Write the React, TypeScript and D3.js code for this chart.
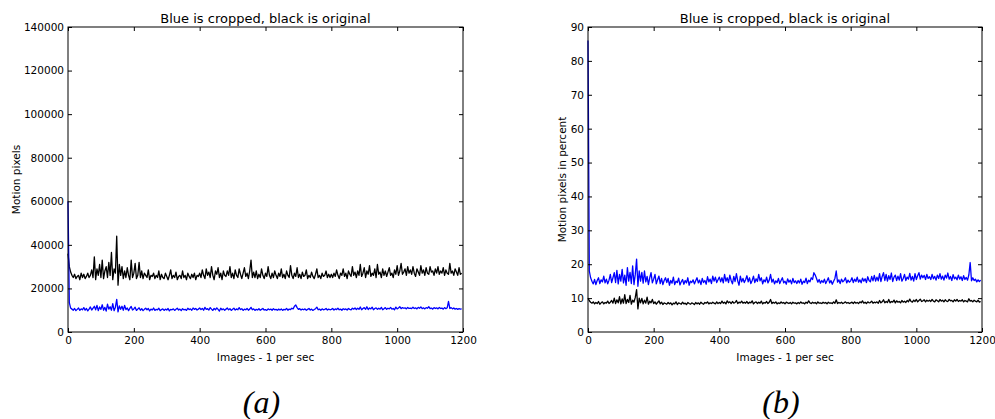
import * as d3 from "d3";
import { useLayoutEffect, useRef } from "react";

// one reading every 4 images (0, 4, 8 ... 1196)
const images = d3.range(0, 1200, 4);

// (a) motion pixels, in thousands
const blackPixelsK = [
  36, 30, 27.5, 26, 25, 26.5, 24.5, 25.5, 26, 24, 27, 25, 26.5, 24.5, 25.5, 27, 25, 26, 28.5, 25,
  34.5, 24, 29, 26, 31, 25, 33, 24.5, 28, 30, 25, 32, 26, 36.5, 24, 29, 27, 44, 21.5, 31,
  26, 30, 24.5, 28, 25, 29.5, 26, 24, 33, 25, 27, 31.5, 24.5, 26, 32, 25, 28, 24.5, 27, 26,
  25, 28.5, 24, 26, 25.5, 27, 24.5, 26, 25, 28, 24, 26.5, 25, 24.5, 27, 25.5, 24, 26, 28.5, 24.5,
  26, 25, 27.5, 24, 25.5, 26, 24.5, 28, 25, 26, 24, 27, 25.5, 24.5, 26.5, 25, 27, 24, 26, 25.5,
  27, 25, 28.5, 26, 24.5, 29, 26, 27.5, 25, 30, 26, 24, 28, 26.5, 29.5, 25, 27, 24, 28, 26,
  25.5, 28, 26, 30, 25, 27, 24.5, 28.5, 26, 25, 29, 26.5, 24.5, 27, 29.5, 25.5, 27, 24.5, 28, 33,
  25, 27.5, 25, 28, 24.5, 26.5, 25, 29, 26, 24.5, 27, 25.5, 30, 26, 24.5, 27, 25, 28, 26, 24.5,
  27, 25.5, 29, 25, 26.5, 24.5, 28, 26, 25, 30.5, 26, 24.5, 27, 25.5, 29.5, 25, 26.5, 24.5, 27.5, 25.5,
  26, 28.5, 24.5, 26, 25, 27.5, 25.5, 24.5, 26.5, 29, 25, 26, 24.5, 27, 25.5, 26, 28, 25, 26.5, 25,
  26.5, 25, 27, 25.5, 28.5, 26, 24.5, 27, 26, 29, 25.5, 27, 24.5, 28, 26.5, 25.5, 30, 26, 27.5, 25,
  28, 26, 31, 25.5, 27, 29.5, 25, 28, 26.5, 30.5, 25.5, 27, 26, 29, 25, 31, 26.5, 27.5, 25, 29,
  26, 28, 25.5, 27.5, 29.5, 26, 27, 25, 28.5, 26.5, 30.5, 26, 28, 31.5, 26.5, 27.5, 29, 26, 30, 27,
  28.5, 26.5, 30, 27, 25.5, 29, 27.5, 26, 30.5, 27, 28.5, 26, 29.5, 27, 26.5, 30, 27.5, 28, 26, 29,
  27, 30, 26.5, 28, 27, 29.5, 26, 28.5, 27, 26.5, 31.5, 27, 28, 26, 29, 27.5, 26, 29.5, 26.5, 27,
];

const bluePixelsK = [
  60, 13.5, 11, 10.5, 10, 10.8, 9.8, 10.4, 11, 9.9, 10.6, 10.2, 11.2, 10, 10.8, 9.7, 10.5, 11.5, 10.1, 10.9,
  11.8, 10.2, 12.2, 9.8, 11.5, 10.4, 12.5, 10, 11.3, 9.6, 12.8, 10.5, 11.6, 10, 13, 9.8, 11.4, 15, 9.2, 12,
  10.4, 11.8, 10, 12.2, 10.3, 11, 9.8, 10.9, 11.7, 10.1, 10.6, 11.4, 9.9, 10.5, 11.1, 10, 10.7, 9.8, 10.4, 10.9,
  10.2, 10.8, 9.7, 10.5, 10.1, 11, 9.9, 10.4, 10.2, 10.9, 9.8, 10.3, 10.6, 9.9, 10.5, 10.1, 10.8, 9.7, 10.4, 10.2,
  10.6, 9.9, 10.4, 10.9, 10.1, 10.5, 9.8, 10.7, 10.2, 10.4, 9.9, 10.9, 10.3, 10.6, 10, 11, 10.4, 10.8, 10.1, 10.5,
  11, 10.3, 10.8, 10, 11.3, 10.4, 10.7, 10.1, 11.2, 10.5, 9.9, 10.8, 10.2, 11.1, 10.4, 9.6, 10.9, 10.2, 10.6, 10,
  10.5, 11, 10.2, 10.7, 9.9, 10.4, 10.9, 10.1, 10.6, 10.2, 11.2, 10.3, 10.7, 9.9, 10.5, 10.2, 10.8, 10, 10.5, 11.3,
  10.2, 10.6, 9.9, 10.4, 10.1, 10.7, 10, 10.4, 10.8, 10.1, 10.3, 9.9, 10.6, 10.2, 10.5, 10, 10.7, 10.2, 10.4, 10,
  10.5, 10.1, 10.6, 9.9, 10.4, 10.2, 10.8, 10, 10.5, 10.3, 10.9, 10.6, 11.8, 12.4, 11.2, 10.4, 10.7, 10.1, 10.5, 10.2,
  10.6, 10, 10.4, 10.8, 10.1, 10.5, 9.9, 10.3, 10.7, 11.4, 10.2, 10.5, 10, 10.6, 10.2, 10.4, 10.8, 10.1, 10.5, 10.2,
  10.4, 10.8, 10.1, 10.6, 10.3, 10.9, 10.2, 10.5, 10, 10.7, 10.3, 10.6, 10.1, 10.8, 10.4, 10.2, 10.9, 10.5, 11, 10.3,
  10.9, 10.4, 11.5, 10.2, 10.8, 11.2, 10.4, 11.6, 10.3, 11, 10.6, 11.4, 10.2, 10.8, 11.1, 10.4, 10.9, 10.5, 11.3, 10.2,
  10.7, 11.2, 10.4, 10.9, 10.6, 11.3, 10.5, 10.8, 10.2, 11.4, 10.6, 11, 11.6, 10.7, 11.2, 10.9, 11.1, 10.6, 11.3, 10.8,
  11, 10.7, 11.4, 10.8, 11.1, 10.6, 11.3, 10.9, 11.5, 10.7, 11.1, 10.6, 11.2, 10.9, 11.6, 10.7, 11, 10.5, 11.2, 10.8,
  11.1, 10.6, 11.3, 10.8, 11, 10.5, 11.2, 10.7, 11.1, 14, 10.8, 11.2, 10.6, 11, 10.5, 10.8, 10.4, 10.7, 10.5, 10.6,
];

// (b) motion pixels as percent of the frame
const blackPercent = [
  10, 9.2, 8.8, 8.5, 8.9, 8.3, 8.7, 8.4, 9, 8.2, 8.6, 8.9, 8.3, 8.7, 8.5, 9.1, 8.4, 8.8, 9.3, 8.5,
  10, 8.4, 9.5, 8.6, 10.4, 8.3, 9.8, 8.5, 11, 8.4, 9.6, 8.7, 10.8, 8.2, 9.4, 8.8, 10.2, 12.5, 6.8, 10,
  8.6, 9.9, 8.3, 9.4, 8.5, 10.3, 8.2, 9.1, 8.6, 9.6, 8.4, 8.9, 8.2, 8.7, 9.2, 8.3, 8.8, 8.1, 8.6, 8.4,
  8.2, 8.7, 8.3, 8.6, 8, 8.5, 8.3, 8.9, 8.1, 8.6, 8.4, 8.2, 8.8, 8.3, 8.5, 8.1, 8.7, 8.4, 8.2, 8.6,
  8.4, 8.1, 8.7, 8.3, 8.6, 8.2, 8.8, 8.4, 8.2, 8.7, 8.5, 8.9, 8.3, 8.6, 8.4, 8.8, 8.5, 8.3, 8.9, 8.4,
  8.7, 8.4, 9.1, 8.5, 8.8, 8.3, 9.2, 8.6, 8.9, 8.4, 9, 8.5, 8.7, 9.3, 8.4, 8.8, 8.6, 9.1, 8.5, 8.8,
  8.5, 9, 8.4, 8.8, 8.6, 9.2, 8.3, 8.7, 8.9, 8.4, 8.8, 8.5, 9.1, 8.3, 8.7, 8.5, 9, 8.4, 8.8, 9.6,
  8.4, 8.8, 8.5, 8.9, 8.3, 8.6, 8.4, 8.9, 8.5, 8.7, 8.3, 8.8, 8.6, 8.4, 8.7, 8.3, 8.8, 8.5, 8.6, 8.3,
  8.7, 8.4, 8.9, 8.5, 8.6, 8.3, 8.8, 8.5, 9.2, 8.6, 8.4, 8.8, 8.5, 8.7, 8.3, 8.9, 8.5, 8.6, 8.4, 8.8,
  8.5, 8.7, 8.3, 8.8, 8.5, 8.6, 8.4, 8.9, 8.5, 9.5, 8.4, 8.7, 8.5, 8.8, 8.4, 8.6, 8.9, 8.5, 8.7, 8.4,
  8.6, 8.8, 8.4, 8.9, 8.5, 8.7, 8.4, 8.9, 8.6, 9.2, 8.5, 8.8, 8.4, 8.9, 8.6, 8.7, 9.1, 8.5, 8.8, 8.6,
  8.9, 8.5, 9.3, 8.6, 8.9, 9.5, 8.6, 9, 8.7, 9.6, 8.6, 9, 8.8, 9.4, 8.6, 9.2, 8.8, 9, 8.6, 9.3,
  8.8, 9.1, 8.7, 9.3, 8.9, 9.7, 9, 8.8, 9.4, 9, 9.6, 8.9, 9.3, 9.7, 9, 9.2, 9.5, 8.9, 9.4, 9.1,
  9.4, 9, 9.6, 9.1, 8.9, 9.5, 9.2, 8.9, 9.6, 9.1, 9.4, 8.9, 9.5, 9.1, 9, 9.6, 9.2, 9.3, 8.9, 9.5,
  9.1, 9.6, 9, 9.3, 9.1, 9.5, 8.9, 9.3, 9.1, 8.9, 9.8, 9.1, 9.3, 8.9, 9.4, 9.1, 8.9, 9.4, 8.8, 9,
];

const bluePercent = [
  86, 18, 16, 15, 14.2, 15.5, 14, 15.2, 16, 14.3, 15.4, 14.8, 16.5, 14.5, 15.6, 14.2, 15.3, 17, 14.6, 16,
  17.5, 14.6, 18.2, 14.2, 17, 15, 18.5, 14.5, 16.8, 13.8, 19, 15, 17.6, 14.3, 19.5, 14, 17, 21.5, 13.5, 18,
  15, 17.6, 14.4, 18, 14.8, 16.4, 14, 16, 17.5, 14.5, 15.6, 17, 14.2, 15.4, 16.5, 14.3, 15.8, 14, 15.2, 16,
  14.6, 15.8, 13.8, 15.2, 14.4, 16.2, 14, 15, 14.6, 15.9, 13.9, 14.8, 15.5, 14.1, 15.2, 14.5, 16, 13.8, 15, 14.6,
  15.4, 14.2, 15.1, 16, 14.5, 15.3, 14, 15.8, 14.6, 15.2, 14.1, 16.3, 14.8, 15.6, 14.3, 16.5, 15, 16.2, 14.6, 15.4,
  16.2, 14.8, 16, 14.5, 17, 15, 16, 14.6, 16.8, 15.2, 14.2, 16.4, 14.9, 17.2, 15.1, 13.8, 16.5, 14.8, 15.8, 14.6,
  15.4, 16.6, 14.8, 16, 14.3, 15.2, 16.5, 14.6, 15.7, 14.9, 17, 15.1, 16, 14.2, 15.4, 14.8, 16.2, 14.5, 15.3, 17,
  14.7, 15.6, 14.2, 15.1, 14.6, 15.8, 14.3, 15.2, 16, 14.5, 15, 14.1, 15.7, 14.7, 15.3, 14.2, 15.8, 14.6, 15.1, 14.3,
  15.2, 14.5, 15.6, 14.1, 15, 14.6, 15.9, 14.3, 15.3, 14.8, 16, 15.5, 17.5, 16.8, 15.8, 14.7, 15.5, 14.4, 15.2, 14.6,
  15.6, 14.3, 15.1, 16, 14.5, 15.2, 14.1, 15, 15.8, 18, 14.7, 15.4, 14.3, 15.6, 14.8, 15.2, 16, 14.5, 15.3, 14.7,
  15.1, 16, 14.6, 15.6, 14.9, 16.2, 14.7, 15.4, 14.5, 15.9, 15, 15.7, 14.6, 16.3, 15.2, 14.8, 16.4, 15.1, 16.7, 15,
  16.2, 15.1, 17.2, 14.9, 16.4, 17.5, 15.2, 17, 15, 16.6, 15.5, 17.4, 14.9, 16.2, 16.8, 15.2, 16.5, 15.3, 17.2, 15,
  15.8, 17, 15.2, 16.2, 15.6, 17.3, 15.3, 16.4, 15, 17.2, 15.5, 16.6, 17.5, 15.6, 16.8, 16, 16.7, 15.5, 17, 15.8,
  16.3, 15.5, 17, 15.7, 16.4, 15.3, 16.8, 15.8, 17.2, 15.6, 16.5, 15.3, 16.8, 15.9, 17.4, 15.6, 16.4, 15.2, 16.9, 15.7,
  16.2, 15.4, 16.8, 15.6, 16.3, 15.2, 16.6, 15.5, 16.1, 15.3, 16.9, 20.5, 15.1, 16, 15.2, 15.6, 14.8, 15.4, 14.9, 15.3,
];

const xTicks = [0, 200, 400, 600, 800, 1000, 1200];
const pixelTicks = [0, 20000, 40000, 60000, 80000, 100000, 120000, 140000];
const percentTicks = [0, 10, 20, 30, 40, 50, 60, 70, 80, 90];

const title = "Blue is cropped, black is original";
const xLabel = "Images - 1 per sec";

const font = "DejaVu Sans, sans-serif";

const drawPanel = (svg, opts) => {
  const top = 27, bottom = 332;
  const { left, right, yMax, yTicks, yLabel, tag, black, blue, scaleK } = opts;

  const x = d3.scaleLinear().domain([0, 1200]).range([left, right]);
  const y = d3.scaleLinear().domain([0, yMax]).range([bottom, top]);

  const g = svg.append("g");

  // data lines
  const line = d3
    .line<number>()
    .x((d, i) => x(images[i]))
    .y((d) => y(d * scaleK));

  g.append("path")
    .datum(black)
    .attr("d", line)
    .attr("fill", "none")
    .attr("stroke", "#000")
    .attr("stroke-width", 1.3)
    .attr("stroke-linejoin", "round");

  g.append("path")
    .datum(blue)
    .attr("d", line)
    .attr("fill", "none")
    .attr("stroke", "#0000ff")
    .attr("stroke-width", 1.3)
    .attr("stroke-linejoin", "round");

  // axes, matplotlib classic: ticks inside on all four sides
  const styleAxis = (sel) => {
    sel.select(".domain").remove();
    sel.selectAll("line").attr("stroke", "#000");
    sel.selectAll("text").attr("font-family", font).attr("font-size", 10.5).attr("fill", "#000");
  };

  g.append("g")
    .attr("transform", `translate(0,${bottom})`)
    .call(d3.axisBottom(x).tickValues(xTicks).tickSize(-4).tickPadding(5).tickFormat(d3.format("d")))
    .call(styleAxis);
  g.append("g")
    .attr("transform", `translate(0,${top})`)
    .call(d3.axisTop(x).tickValues(xTicks).tickSize(-4).tickFormat(() => ""))
    .call(styleAxis);
  g.append("g")
    .attr("transform", `translate(${left},0)`)
    .call(d3.axisLeft(y).tickValues(yTicks).tickSize(-4).tickPadding(4).tickFormat(d3.format("d")))
    .call(styleAxis);
  g.append("g")
    .attr("transform", `translate(${right},0)`)
    .call(d3.axisRight(y).tickValues(yTicks).tickSize(-4).tickFormat(() => ""))
    .call(styleAxis);

  // frame
  g.append("rect")
    .attr("x", left)
    .attr("y", top)
    .attr("width", right - left)
    .attr("height", bottom - top)
    .attr("fill", "none")
    .attr("stroke", "#000")
    .attr("stroke-width", 1);

  const cx = (left + right) / 2;

  g.append("text")
    .attr("x", cx)
    .attr("y", 23)
    .attr("text-anchor", "middle")
    .attr("font-family", font)
    .attr("font-size", 13)
    .text(title);

  g.append("text")
    .attr("x", cx)
    .attr("y", 361)
    .attr("text-anchor", "middle")
    .attr("font-family", font)
    .attr("font-size", 10.5)
    .text(xLabel);

  g.append("text")
    .attr("transform", `translate(${opts.yLabelX},${(top + bottom) / 2}) rotate(-90)`)
    .attr("text-anchor", "middle")
    .attr("font-family", font)
    .attr("font-size", 10.5)
    .text(yLabel);

  g.append("text")
    .attr("x", cx - 4)
    .attr("y", 413)
    .attr("text-anchor", "middle")
    .attr("font-family", "Liberation Serif, serif")
    .attr("font-style", "italic")
    .attr("font-size", 32)
    .text(tag);
};

const App = () => {
  const ref = useRef(null);

  useLayoutEffect(() => {
    const svg = d3.select(ref.current);
    svg.selectAll("*").remove();

    drawPanel(svg, {
      left: 68, right: 463, yMax: 140000, yTicks: pixelTicks, yLabel: "Motion pixels",
      yLabelX: 20, tag: "(a)", black: blackPixelsK, blue: bluePixelsK, scaleK: 1000,
    });
    drawPanel(svg, {
      left: 588, right: 982, yMax: 90, yTicks: percentTicks, yLabel: "Motion pixels in percent",
      yLabelX: 566, tag: "(b)", black: blackPercent, blue: bluePercent, scaleK: 1,
    });
  });

  return (
    <div style={{ position: "fixed", left: 0, top: 0 }}>
      <svg ref={ref} width={995} height={419} style={{ display: "block", background: "#fff" }} />
    </div>
  );
};

export default App;
